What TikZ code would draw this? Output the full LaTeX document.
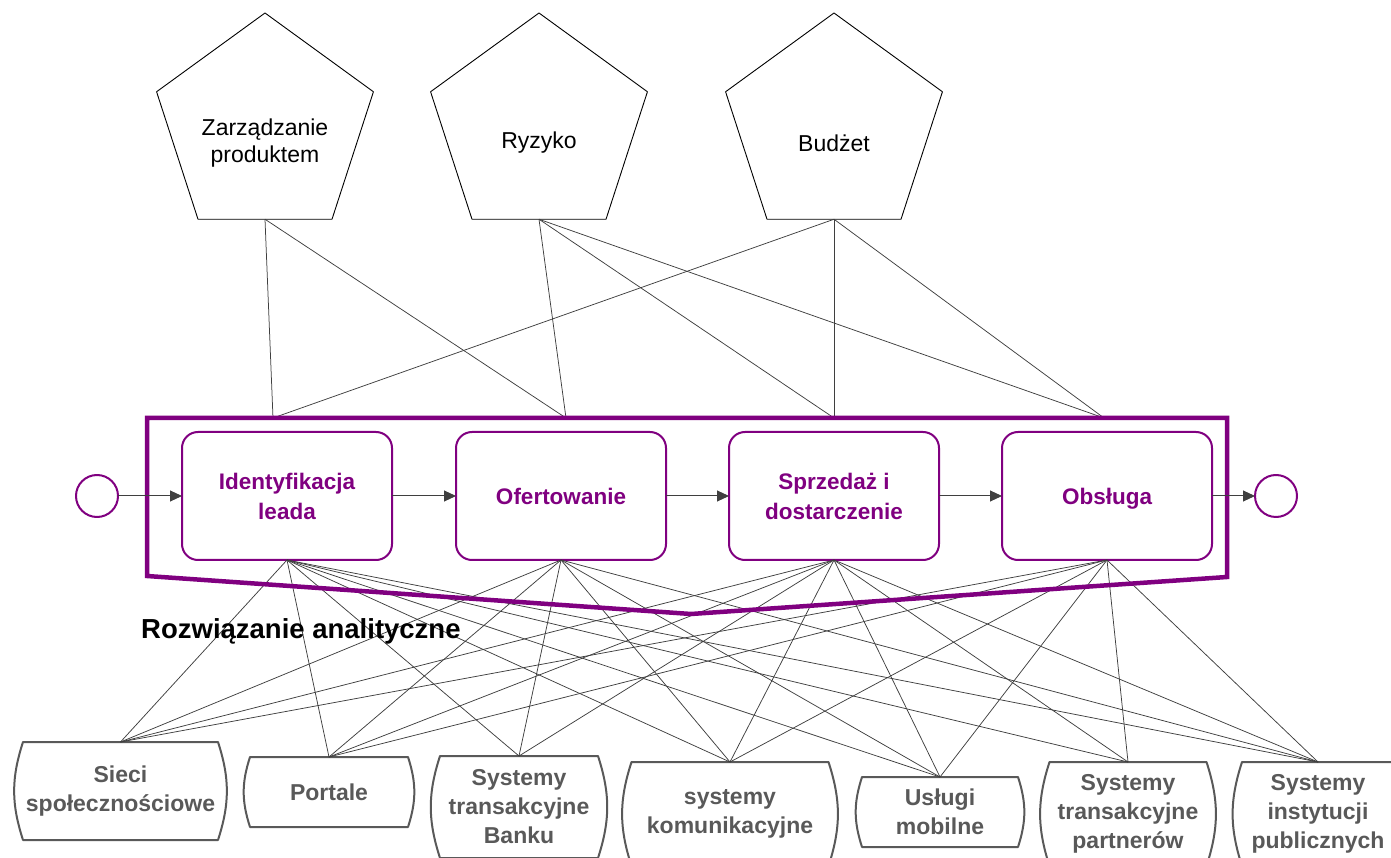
\documentclass[tikz,border=0pt]{standalone}
\usepackage{fontspec}
\setmainfont{Liberation Sans}
\usetikzlibrary{shapes.geometric,arrows.meta}
\definecolor{fiolet}{HTML}{800080}
\definecolor{szary}{HTML}{595959}
\definecolor{linia}{HTML}{3F3F3F}
\tikzset{
  pent/.style={regular polygon,regular polygon sides=5,draw=black,line width=0.9pt,minimum size=228pt,inner sep=0pt,outer sep=0pt},
  pentxt/.style={align=center,font=\fontsize{23}{27}\selectfont},
  zadanie/.style={draw=fiolet,fill=white,line width=2pt,rounded corners=16pt,minimum width=210pt,minimum height=128pt,align=center,text=fiolet,font=\fontsize{22.5}{30}\selectfont\bfseries,outer sep=0pt},
  zdarzenie/.style={circle,draw=fiolet,fill=white,line width=2pt,minimum size=42pt,inner sep=0pt,outer sep=0pt},
  system/.style={align=center,text=szary,font=\fontsize{23}{29}\selectfont\bfseries,inner sep=0pt,outer sep=0pt},
  lin/.style={draw=linia,line width=0.75pt},
  strz/.style={draw=linia,line width=1pt,-{Triangle[length=12pt,width=11pt]}},
}
\begin{document}
\begin{tikzpicture}[x=1pt,y=1pt,line join=round]
\useasboundingbox (0,0) rectangle (1391,857);
\clip (0,0) rectangle (1391,857);
\node[pent] (zp) at (265,730) {};
\node[pent] (ry) at (539,730) {};
\node[pent] (bu) at (834,730) {};
\node[pentxt] (zptxt) at (265,714) {Zarządzanie\\produktem};
\node[pentxt] (rytxt) at (539,714) {Ryzyko};
\node[pentxt] (butxt) at (834,714) {Budżet};
\coordinate (t1) at (273,439);
\coordinate (t2) at (566,439);
\coordinate (t3) at (834,439);
\coordinate (t4) at (1104,439);
\node[zadanie] (z1) at (287,361) {Identyfikacja\\leada};
\node[zadanie] (z2) at (561,361) {Ofertowanie};
\node[zadanie] (z3) at (834,361) {Sprzedaż i\\dostarczenie};
\node[zadanie,text depth=0pt] (z4) at (1107,361) {Obsługa};
\node[zdarzenie] (start) at (97,361) {};
\node[zdarzenie] (koniec) at (1276,361) {};
\node[system,minimum width=195pt,minimum height=98pt] (s1) at (120.5,66) {Sieci\\społecznościowe};
\node[system,minimum width=158pt,minimum height=70pt] (s2) at (329,65) {Portale};
\node[system,minimum width=158pt,minimum height=102pt] (s3) at (519,50) {Systemy\\transakcyjne\\Banku};
\node[system,minimum width=197pt,minimum height=104pt] (s4) at (730,43) {systemy\\komunikacyjne};
\node[system,minimum width=156pt,minimum height=70pt] (s5) at (940,45) {Usługi\\mobilne};
\node[system,minimum width=157pt,minimum height=104pt] (s6) at (1128,43) {Systemy\\transakcyjne\\partnerów};
\node[system,minimum width=152pt,minimum height=104pt] (s7) at (1318,43) {Systemy\\instytucji\\publicznych};
\foreach \n in {s1,s2,s3,s4,s5,s6,s7}
  \draw[szary,line width=2pt] (\n.north west) -- (\n.north east) to[bend left=18] (\n.south east) -- (\n.south west) to[bend left=18] (\n.north west) -- cycle;
\foreach \p/\t in {zp/t1,zp/t2,ry/t2,ry/t3,ry/t4,bu/t1,bu/t3,bu/t4}
  \draw[lin] (\p.south) -- (\t);
\foreach \z/\s in {z1/s1,z1/s2,z1/s3,z1/s4,z1/s5,z1/s6,z1/s7,
                   z2/s1,z2/s2,z2/s3,z2/s4,z2/s5,z2/s7,
                   z3/s1,z3/s2,z3/s3,z3/s4,z3/s5,z3/s6,z3/s7,
                   z4/s1,z4/s2,z4/s4,z4/s5,z4/s6,z4/s7}
  \draw[lin] (\z.south) -- (\s.north);
\draw[fiolet,line width=4.5pt,line join=miter] (147,439) -- (1227,439) -- (1227,280) -- (691,243) -- (147,281) -- cycle;
\node[anchor=base west,inner sep=0pt,font=\fontsize{27.5}{30}\selectfont\bfseries] (rozw) at (141,219) {Rozwiązanie analityczne};
\draw[strz] (start) -- (z1);
\draw[strz] (z1) -- (z2);
\draw[strz] (z2) -- (z3);
\draw[strz] (z3) -- (z4);
\draw[strz] (z4) -- (koniec);
\end{tikzpicture}
\end{document}
